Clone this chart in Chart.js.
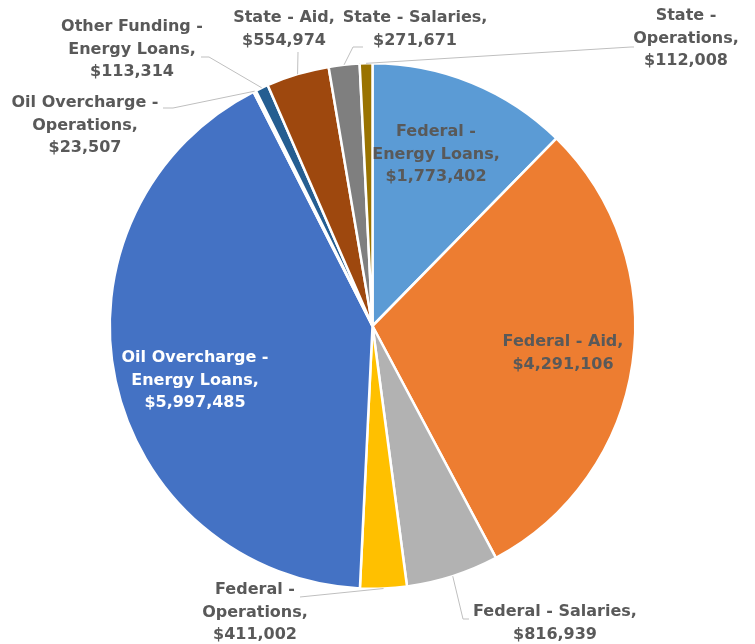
<!DOCTYPE html>
<html>
<head>
<meta charset="utf-8">
<script src="https://cdn.jsdelivr.net/npm/chart.js@4"></script>
<style>
html,body{margin:0;padding:0;background:#fff;}
#wrap{width:755px;height:644px;position:relative;}
</style>
</head>
<body>
<div id="wrap"><canvas id="c" width="755" height="644"></canvas></div>
<script>
const categories = [
  "Federal - Energy Loans",
  "Federal - Aid",
  "Federal - Salaries",
  "Federal - Operations",
  "Oil Overcharge - Energy Loans",
  "Oil Overcharge - Operations",
  "Other Funding - Energy Loans",
  "State - Aid",
  "State - Salaries",
  "State - Operations"
];
const amounts = [1773402, 4291106, 816939, 411002, 5997485, 23507, 113314, 554974, 271671, 112008];
const sliceColors = ["#5B9BD5", "#ED7D31", "#B2B2B2", "#FFC000", "#4472C4", "#FFFFFF", "#255E91", "#9E480E", "#7F7F7F", "#997300"];

// label line breaks (text lines) per category
const labelLines = [
  ["Federal -", "Energy Loans,"],
  ["Federal - Aid,"],
  ["Federal - Salaries,"],
  ["Federal -", "Operations,"],
  ["Oil Overcharge -", "Energy Loans,"],
  ["Oil Overcharge -", "Operations,"],
  ["Other Funding -", "Energy Loans,"],
  ["State - Aid,"],
  ["State - Salaries,"],
  ["State -", "Operations,"]
];
// label placement: center x, first line center y, colour, leader path (after arc point)
const labelPlace = [
  {x: 436, y: 132, color: "#595959", leader: null},
  {x: 563, y: 342, color: "#595959", leader: null},
  {x: 555, y: 612, color: "#595959", leader: [[463, 619], [469, 619]]},
  {x: 255, y: 590, color: "#595959", leader: [[300, 597]]},
  {x: 195, y: 358, color: "#FFFFFF", leader: null},
  {x: 85, y: 103, color: "#595959", leader: [[173, 108], [163, 108]]},
  {x: 132, y: 27, color: "#595959", leader: [[209, 57], [201, 57]]},
  {x: 284, y: 18, color: "#595959", leader: [[298, 52]]},
  {x: 415, y: 18, color: "#595959", leader: [[353, 47], [363, 47]]},
  {x: 686, y: 16, color: "#595959", leader: [[631, 47], [634, 47]]}
];

function fmtMoney(v) {
  return "$" + v.toLocaleString("en-US");
}

const labelPlugin = {
  id: "pieLabels",
  afterDatasetsDraw(chart) {
    const ctx = chart.ctx;
    const meta = chart.getDatasetMeta(0);
    const ds = chart.data.datasets[0];
    ctx.save();
    meta.data.forEach((arc, i) => {
      const p = labelPlace[i];
      const props = arc.getProps(["x", "y", "startAngle", "endAngle", "outerRadius"], true);
      if (p.leader) {
        const mid = (props.startAngle + props.endAngle) / 2;
        const sx = props.x + Math.cos(mid) * props.outerRadius;
        const sy = props.y + Math.sin(mid) * props.outerRadius;
        ctx.beginPath();
        ctx.moveTo(sx, sy);
        p.leader.forEach(pt => ctx.lineTo(pt[0], pt[1]));
        ctx.strokeStyle = "#BFBFBF";
        ctx.lineWidth = 1;
        ctx.stroke();
      }
      const lines = labelLines[i].concat([fmtMoney(ds.data[i])]);
      ctx.font = "bold 16px 'DejaVu Sans'";
      ctx.fillStyle = p.color;
      ctx.textAlign = "center";
      ctx.textBaseline = "middle";
      lines.forEach((t, k) => ctx.fillText(t, p.x, p.y + k * 22.5));
    });
    ctx.restore();
  }
};

new Chart(document.getElementById("c"), {
  type: "pie",
  data: {
    labels: categories,
    datasets: [{
      data: amounts,
      backgroundColor: sliceColors,
      borderColor: "#FFFFFF",
      borderWidth: 2.5
    }]
  },
  options: {
    responsive: false,
    animation: false,
    layout: {padding: {top: 62, bottom: 54, left: 99, right: 109}},
    plugins: {legend: {display: false}, tooltip: {enabled: false}}
  },
  plugins: [labelPlugin]
});
</script>
</body>
</html>
